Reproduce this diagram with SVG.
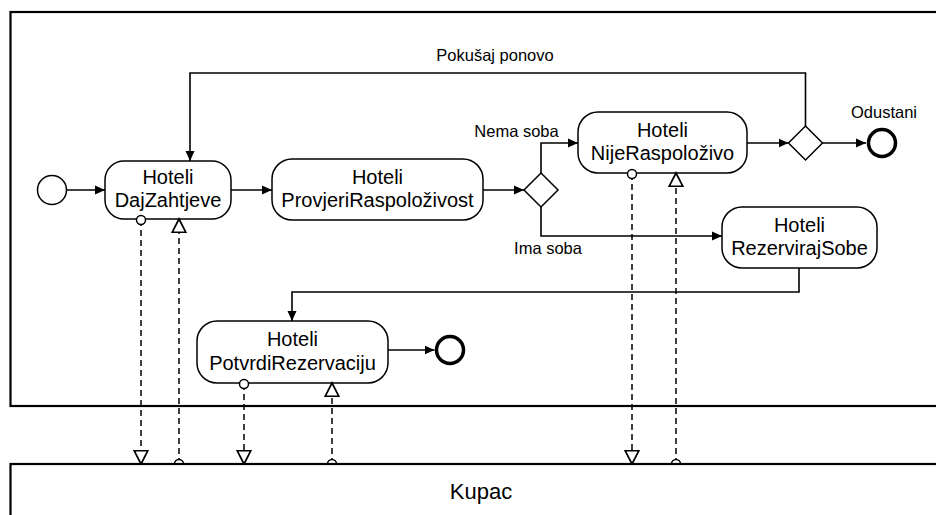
<svg xmlns="http://www.w3.org/2000/svg" width="936" height="515" viewBox="0 0 936 515">
<defs>
<style>
.pool{fill:#fff;stroke:#000;stroke-width:2.2}
.task{fill:#fff;stroke:#000;stroke-width:1.5}
.gw{fill:#fff;stroke:#000;stroke-width:1.5}
.start{fill:#fff;stroke:#000;stroke-width:1.5}
.end{fill:#fff;stroke:#000;stroke-width:3.5}
.seq{fill:none;stroke:#000;stroke-width:1.6;marker-end:url(#block)}
.msg{fill:none;stroke:#000;stroke-width:1.5;stroke-dasharray:6 4;marker-start:url(#oval);marker-end:url(#open)}
.t{font-family:"Liberation Sans",Arial,sans-serif;font-size:20px;fill:#000;text-anchor:middle}
.lbl{font-family:"Liberation Sans",Arial,sans-serif;font-size:16.5px;fill:#000;text-anchor:middle}
.big{font-family:"Liberation Sans",Arial,sans-serif;font-size:22px;fill:#000;text-anchor:middle}
</style>
<marker id="block" markerUnits="userSpaceOnUse" markerWidth="12" markerHeight="12" refX="10" refY="5" orient="auto" viewBox="0 0 12 10">
<path d="M0,0.5 L10,5 L0,9.5 Z" fill="#000"/>
</marker>
<marker id="open" markerUnits="userSpaceOnUse" markerWidth="16" markerHeight="16" refX="12.5" refY="7" orient="auto" viewBox="0 0 14 14">
<path d="M0.8,1 L12.5,7 L0.8,13 Z" fill="#fff" stroke="#000" stroke-width="1.5"/>
</marker>
<marker id="oval" markerUnits="userSpaceOnUse" markerWidth="14" markerHeight="14" refX="7" refY="7" orient="auto" viewBox="0 0 14 14">
<circle cx="7" cy="7" r="4.5" fill="#fff" stroke="#000" stroke-width="1.5"/>
</marker>
</defs>

<g id="pool-hoteli">
<rect class="pool" x="10.5" y="12" width="1000" height="394"/>
</g>

<g id="start">
<circle class="start" cx="52" cy="190" r="14.5"/>
</g>

<g id="task-dajzahtjeve">
<rect class="task" x="105" y="161" width="126" height="58" rx="19"/>
<text class="t" x="168" y="184">Hoteli</text>
<text class="t" x="168" y="207">DajZahtjeve</text>
</g>

<g id="task-provjeri">
<rect class="task" x="272" y="159" width="211" height="61" rx="20"/>
<text class="t" x="377.5" y="184">Hoteli</text>
<text class="t" x="377.5" y="207">ProvjeriRaspoloživost</text>
</g>

<g id="gateway-1">
<path class="gw" d="M541,173 L558,190 L541,207 L524,190 Z"/>
</g>

<g id="task-nije">
<rect class="task" x="578" y="112" width="169" height="61" rx="20"/>
<text class="t" x="662.5" y="137">Hoteli</text>
<text class="t" x="662.5" y="160">NijeRaspoloživo</text>
</g>

<g id="gateway-2">
<path class="gw" d="M805.5,126 L822.5,143 L805.5,160 L788.5,143 Z"/>
</g>

<g id="end-odustani">
<circle class="end" cx="882" cy="143" r="13.5"/>
<text class="lbl" x="884" y="118">Odustani</text>
</g>

<g id="task-rezerviraj">
<rect class="task" x="722" y="207" width="155" height="61" rx="20"/>
<text class="t" x="799.5" y="232">Hoteli</text>
<text class="t" x="799.5" y="255">RezervirajSobe</text>
</g>

<g id="task-potvrdi">
<rect class="task" x="197" y="321" width="191" height="62" rx="20"/>
<text class="t" x="292.5" y="346">Hoteli</text>
<text class="t" x="292.5" y="369.5">PotvrdiRezervaciju</text>
</g>

<g id="end-2">
<circle class="end" cx="450" cy="350" r="13.5"/>
</g>

<g id="connectors">
<path class="seq" d="M66.5,190 H105"/>
<path class="seq" d="M231,190 H272"/>
<path class="seq" d="M483,190 H524"/>
<path class="seq" d="M541,173 V143 H578"/>
<path class="seq" d="M541,207 V236 H722"/>
<path class="seq" d="M747,143 H788.5"/>
<path class="seq" d="M822.5,143 H866"/>
<path class="seq" d="M805.5,126 V73 H190 V161"/>
<path class="seq" d="M799,268 V292 H292 V321"/>
<path class="seq" d="M388,350 H434.5"/>
<path class="msg" d="M141,220 V464"/>
<path class="msg" d="M179,464 V219"/>
<path class="msg" d="M244,384 V464"/>
<path class="msg" d="M332,464 V383"/>
<path class="msg" d="M632,174 V464"/>
<path class="msg" d="M676,464 V173"/>
<text class="lbl" x="495" y="61">Pokušaj ponovo</text>
<text class="lbl" x="516.5" y="137">Nema soba</text>
<text class="lbl" x="548" y="254">Ima soba</text>
</g>

<g id="pool-kupac">
<rect class="pool" x="10.5" y="464" width="1000" height="100"/>
<text class="big" x="481" y="499">Kupac</text>
</g>
</svg>
